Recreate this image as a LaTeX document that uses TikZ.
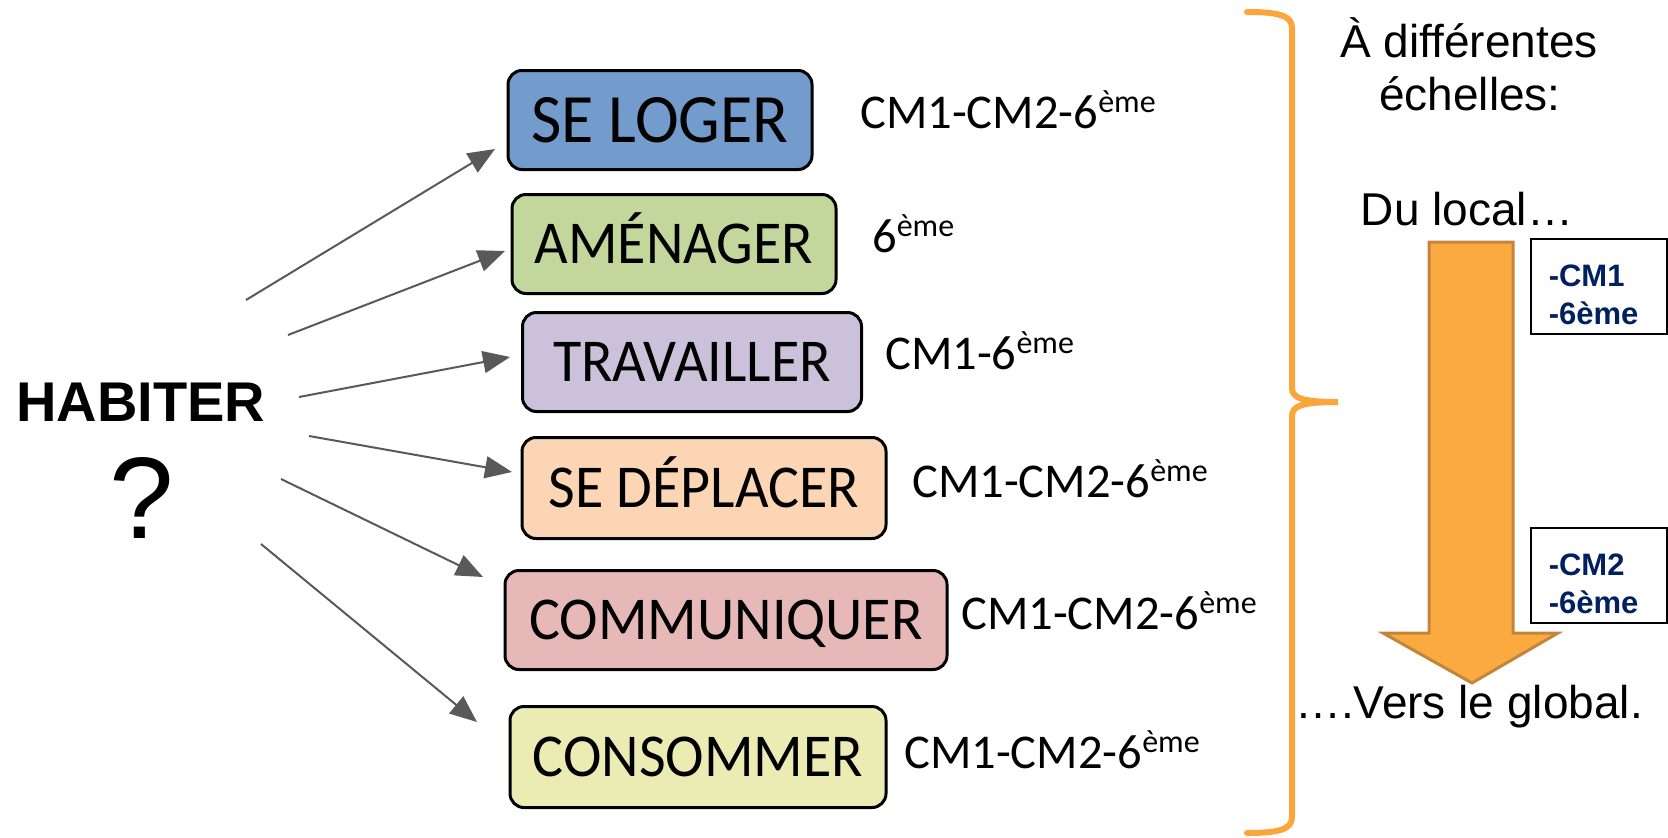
\documentclass[tikz,border=0pt]{standalone}
\usepackage{fontspec}
\setmainfont{Carlito}
\newfontfamily\arialf{Liberation Sans}
\usetikzlibrary{arrows.meta}
\definecolor{cA}{HTML}{739BCC}
\definecolor{cB}{HTML}{C3D69B}
\definecolor{cC}{HTML}{CCC1DA}
\definecolor{cD}{HTML}{FCD5B5}
\definecolor{cE}{HTML}{E6B9B8}
\definecolor{cF}{HTML}{EBEBB4}
\definecolor{arrgray}{HTML}{595959}
\definecolor{braceor}{HTML}{FAA63C}
\definecolor{bigfill}{HTML}{FBAA3F}
\definecolor{bigline}{HTML}{C3843C}
\definecolor{navy}{HTML}{002060}
\newcommand{\supeme}{\raisebox{16pt}{\fontsize{32}{32}\selectfont ème}}
\newcommand{\tallt}[1]{\scalebox{1}[1.05]{#1}}
\begin{document}
\begin{tikzpicture}[x=1pt,y={(0pt,-1pt)},
  stepbox/.style={draw=black, line width=3pt, rounded corners=14pt, minimum height=99pt,
    text height=39pt, text depth=0pt, inner sep=0pt, font=\fontsize{58}{60}\selectfont},
  conn/.style={draw=arrgray, line width=2pt, -{Triangle[length=27pt,width=22pt]}},
  lbl/.style={anchor=base west, inner sep=0pt, font=\fontsize{48.5}{50}\selectfont},
  bracestyle/.style={draw=braceor, line width=6pt, line cap=round},
  rtxt/.style={anchor=base, inner sep=0pt, font=\arialf\fontsize{46}{50}\selectfont},
  tag/.style={draw=black, line width=1.5pt, anchor=north west, minimum width=136pt,
    minimum height=95pt, text width=100pt, align=left, inner xsep=17pt, inner ysep=0pt,
    text height=40pt, text depth=40pt, text=navy,
    font=\arialf\bfseries\fontsize{31}{38}\selectfont}]
\useasboundingbox (0,0) rectangle (1668,838);

% HABITER
\node[anchor=base, inner sep=0pt, font=\arialf\bfseries\fontsize{56}{60}\selectfont] (hab) at (141,421) {HABITER};
\node[anchor=base, inner sep=0pt, font=\arialf\fontsize{116}{120}\selectfont] (q) at (142,538) {?};

% boxes
\node[stepbox, fill=cA, minimum width=304pt, text height=45pt, font=\fontsize{66}{68}\selectfont] (b1) at (660,120) {\tallt{SE LOGER}};
\node[stepbox, fill=cB, minimum width=324pt] (b2) at (674,244) {\tallt{AMÉNAGER}};
\node[stepbox, fill=cC, minimum width=339pt] (b3) at (692,362) {\tallt{TRAVAILLER}};
\node[stepbox, fill=cD, minimum width=364pt, minimum height=101pt] (b4) at (704,488) {\tallt{SE DÉPLACER}};
\node[stepbox, fill=cE, minimum width=442pt] (b5) at (726,620) {\tallt{COMMUNIQUER}};
\node[stepbox, fill=cF, minimum width=376pt, minimum height=101pt] (b6) at (698,757) {\tallt{CONSOMMER}};

% labels
\node[lbl] (l1) at (860,128) {CM1-CM2-6\supeme};
\node[lbl] (l2) at (872,252) {6\supeme};
\node[lbl] (l3) at (885,369) {CM1-6\supeme};
\node[lbl] (l4) at (912,497) {CM1-CM2-6\supeme};
\node[lbl] (l5) at (961,629) {CM1-CM2-6\supeme};
\node[lbl] (l6) at (904,768) {CM1-CM2-6\supeme};

% connectors
\coordinate (s1) at (246,300); \coordinate (e1) at (495,149);
\coordinate (s2) at (288,335); \coordinate (e2) at (505,251);
\coordinate (s3) at (299,397); \coordinate (e3) at (510,357);
\coordinate (s4) at (309,436); \coordinate (e4) at (512,472);
\coordinate (s5) at (281,479); \coordinate (e5) at (483,577);
\coordinate (s6) at (261,544); \coordinate (e6) at (477,722);
\foreach \i in {1,...,6} {\draw[conn] (s\i) -- (e\i);}

% brace
\draw[bracestyle] (1247,12) .. controls (1280,12) and (1292,16) .. (1292,28)
  -- (1292,388) .. controls (1292,398) and (1302,402) .. (1338,402)
  .. controls (1302,402) and (1292,406) .. (1292,416)
  -- (1292,817) .. controls (1292,829) and (1280,833) .. (1247,833);

% right texts
\node[rtxt] (t1) at (1469,57) {À différentes};
\node[rtxt] (t2) at (1470,110) {échelles:};
\node[rtxt] (t3) at (1467,225) {Du local…};

% big arrow
\draw[fill=bigfill, draw=bigline, line width=3pt, line join=miter]
  (1429,242) -- (1513,242) -- (1513,633) -- (1558,633) -- (1472,683)
  -- (1383,633) -- (1429,633) -- cycle;

\node[rtxt] (t4) at (1469,718) {….Vers le global.};

% tags
\node[tag] (g1) at (1530,238) {-CM1\\-6ème};
\node[tag] (g2) at (1530,527) {-CM2\\-6ème};
\end{tikzpicture}
\end{document}
